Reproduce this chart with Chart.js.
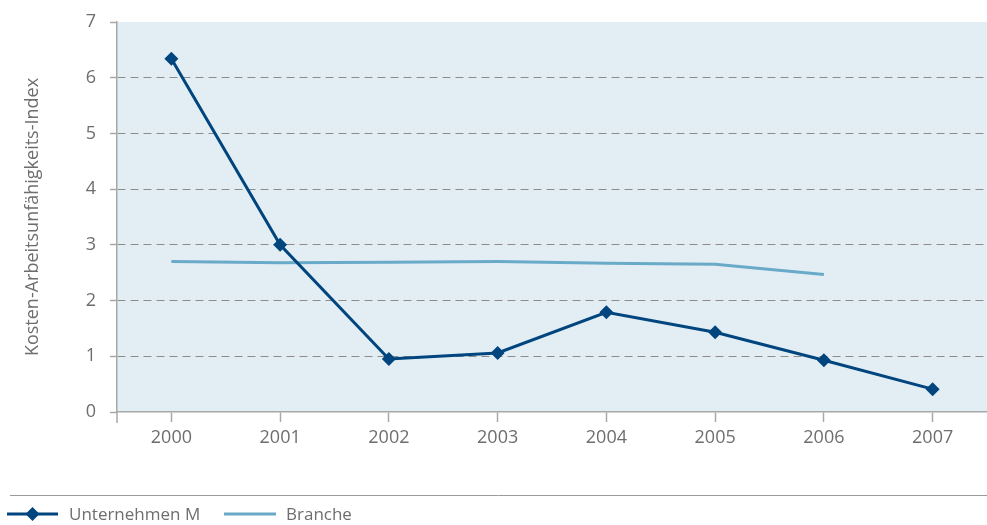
<!DOCTYPE html>
<html>
<head>
<meta charset="utf-8">
<script src="https://cdn.jsdelivr.net/npm/chart.js@4/dist/chart.umd.min.js"></script>
<style>
  html, body { margin: 0; padding: 0; background: #ffffff; }
  #wrap { position: relative; width: 987px; height: 525px; }
</style>
</head>
<body>
<div id="wrap"><canvas id="c" width="987" height="525"></canvas></div>
<script>
const categories = ['2000', '2001', '2002', '2003', '2004', '2005', '2006', '2007'];
const unternehmenValues = [6.34, 3.0, 0.95, 1.06, 1.79, 1.43, 0.93, 0.41];
const brancheValues = [2.70, 2.68, 2.69, 2.70, 2.67, 2.65, 2.47, null];
const seriesNames = ['Unternehmen M', 'Branche'];
const yTitle = 'Kosten-Arbeitsunfähigkeits-Index';

const DARK = '#00457e';
const LIGHT = '#6aaac9';
const GRAY = '#8c8c8c';
const TEXT = '#6e6e6e';
const FONT = "'Open Sans', 'DejaVu Sans', sans-serif";

const bgPlugin = {
  id: 'bg',
  beforeDraw(chart) {
    const a = chart.chartArea, ctx = chart.ctx;
    ctx.save();
    ctx.fillStyle = '#e3eef4';
    ctx.fillRect(a.left, a.top, a.right - a.left, a.bottom - a.top);
    ctx.restore();
  },
  afterDraw(chart) {
    const a = chart.chartArea, ctx = chart.ctx;
    ctx.save();
    ctx.strokeStyle = '#a8a8a8';
    ctx.lineWidth = 1.5;
    ctx.beginPath();
    ctx.moveTo(a.left, a.bottom);
    ctx.lineTo(a.left, a.bottom + 11);
    ctx.stroke();
    ctx.strokeStyle = '#9a9a9a';
    ctx.lineWidth = 1;
    ctx.beginPath();
    ctx.moveTo(10, 495.5);
    ctx.lineTo(987, 495.5);
    ctx.stroke();
    const ly = 514;
    ctx.lineWidth = 3;
    ctx.strokeStyle = DARK;
    ctx.beginPath(); ctx.moveTo(7, ly); ctx.lineTo(58, ly); ctx.stroke();
    ctx.fillStyle = DARK;
    ctx.beginPath();
    ctx.moveTo(32.5, ly - 7); ctx.lineTo(39.5, ly); ctx.lineTo(32.5, ly + 7); ctx.lineTo(25.5, ly);
    ctx.closePath(); ctx.fill();
    ctx.strokeStyle = LIGHT;
    ctx.beginPath(); ctx.moveTo(224, ly); ctx.lineTo(276, ly); ctx.stroke();
    ctx.fillStyle = TEXT;
    ctx.font = "17px " + FONT;
    ctx.textBaseline = 'middle';
    ctx.textAlign = 'left';
    ctx.fillText(seriesNames[0], 69, ly + 1);
    ctx.fillText(seriesNames[1], 286, ly + 1);
    ctx.restore();
  }
};

new Chart(document.getElementById('c'), {
  type: 'line',
  data: {
    labels: categories,
    datasets: [
      {
        label: seriesNames[0],
        data: unternehmenValues,
        borderColor: DARK,
        backgroundColor: DARK,
        borderWidth: 3,
        pointStyle: 'rectRot',
        pointRadius: 7,
        pointHoverRadius: 7,
        pointBorderWidth: 0,
        tension: 0,
        order: 1
      },
      {
        label: seriesNames[1],
        data: brancheValues,
        borderColor: LIGHT,
        backgroundColor: LIGHT,
        borderWidth: 3,
        pointRadius: 0,
        tension: 0,
        order: 2
      }
    ]
  },
  options: {
    responsive: false,
    animation: false,
    layout: { autoPadding: false, padding: { top: 22, right: 0, bottom: 0, left: 0 } },
    plugins: { legend: { display: false }, tooltip: { enabled: false } },
    scales: {
      x: {
        offset: true,
        grid: {
          offset: false,
          drawOnChartArea: false,
          drawTicks: true,
          tickLength: 10,
          tickColor: '#a8a8a8',
          tickWidth: 1.5
        },
        border: { display: true, color: '#a8a8a8', width: 1.5 },
        ticks: { color: TEXT, font: { family: FONT, size: 18 }, padding: 5, maxRotation: 0 },
        afterFit(scale) { scale.height = 113; scale.paddingLeft = 0; scale.paddingRight = 0; }
      },
      y: {
        min: 0,
        max: 7,
        ticks: { stepSize: 1, color: TEXT, font: { family: FONT, size: 18 }, padding: 14 },
        grid: {
          color: (ctx) => (ctx.tick && (ctx.tick.value === 0 || ctx.tick.value === 7)) ? 'rgba(0,0,0,0)' : GRAY,
          lineWidth: 1,
          drawTicks: true,
          tickLength: 7,
          tickColor: '#a8a8a8',
          tickWidth: 1.5
        },
        border: { display: true, color: '#a8a8a8', width: 1.5, dash: [8, 5] },
        title: {
          display: true,
          text: yTitle,
          color: TEXT,
          font: { family: FONT, size: 18 },
          padding: { top: 22, bottom: 0 }
        },
        afterFit(scale) { scale.width = 117; scale.paddingTop = 0; scale.paddingBottom = 0; }
      }
    }
  },
  plugins: [bgPlugin]
});
</script>
</body>
</html>
